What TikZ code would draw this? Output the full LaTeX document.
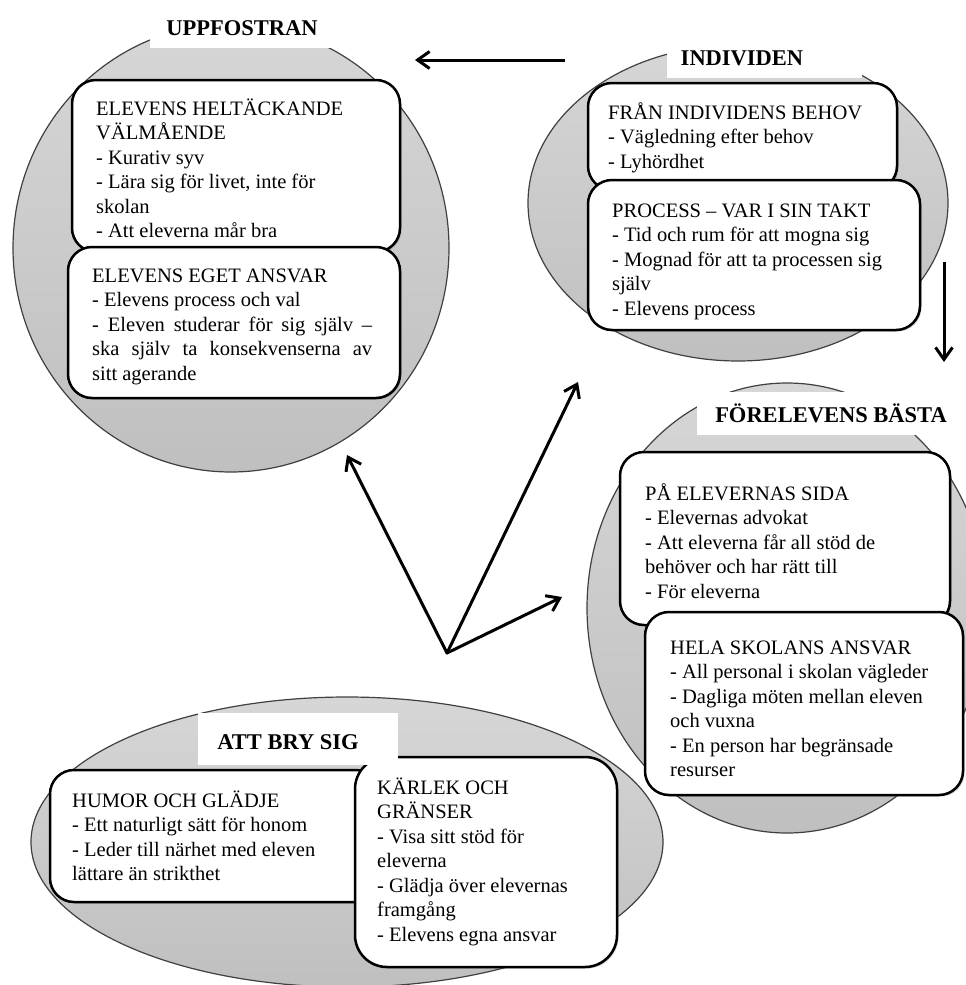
\documentclass[tikz,border=0pt]{standalone}
\usepackage{fontspec}
\setmainfont{Liberation Serif}
\usetikzlibrary{arrows.meta,shadows}

\begin{document}
\begin{tikzpicture}[x=1pt,y=-1pt,
  zone/.style={draw=black!75, line width=1.2pt, top color=gray!32, bottom color=gray!50},
  card/.style={draw=black, line width=2.5pt, fill=white, rounded corners=24pt,
    inner sep=0pt, outer sep=0pt, anchor=north west,
    drop shadow={shadow xshift=1.6pt, shadow yshift=-1.6pt, opacity=0.35}},
  cardtext/.style={inner sep=0pt, anchor=base west, font=\fontsize{20.5pt}{24.5pt}\selectfont},
  heading/.style={inner sep=0pt, text height=15pt, text depth=0pt,
    font=\fontsize{22.5pt}{26pt}\selectfont\bfseries},
  plate/.style={fill=white},
  flow/.style={line width=3pt, -{Straight Barb[length=12pt,width=17pt]}}
]
\useasboundingbox (0,0) rectangle (966,985);
\fill[white] (0,0) rectangle (966,985);
\clip (0,0) rectangle (966,985);

% ---------- background zones ----------
\draw[zone] (231,248) ellipse [x radius=218pt, y radius=224pt];
\draw[zone] (738,203) ellipse [x radius=210pt, y radius=158pt];
\draw[zone] (787,608) ellipse [x radius=200pt, y radius=225pt];
\draw[zone] (347,842) ellipse [x radius=316pt, y radius=145pt];

% ---------- UPPFOSTRAN ----------
\node[card, minimum width=328pt, minimum height=172pt] (u1) at (72,80) {};
\node[cardtext] (u1t) at (96,115) {\parbox[t]{320pt}{\raggedright
  ELEVENS HELTÄCKANDE\\VÄLMÅENDE\\- Kurativ syv\\- Lära sig för livet, inte för\\skolan\\- Att eleverna mår bra}};
\node[card, minimum width=332pt, minimum height=151pt] (u2) at (68,247) {};
\node[cardtext] (u2t) at (92,282) {\parbox[t]{320pt}{\raggedright
  ELEVENS EGET ANSVAR\\- Elevens process och val\\
  \makebox[280pt][s]{- Eleven studerar för sig själv –}\\
  \makebox[280pt][s]{ska själv ta konsekvenserna av}\\sitt agerande}};

% ---------- INDIVIDEN ----------
\node[card, minimum width=309pt, minimum height=107pt] (i1) at (588,83) {};
\node[cardtext] (i1t) at (608,119) {\parbox[t]{320pt}{\raggedright
  FRÅN INDIVIDENS BEHOV\\- Vägledning efter behov\\- Lyhördhet}};
\node[card, minimum width=332pt, minimum height=150pt] (i2) at (588,180) {};
\node[cardtext] (i2t) at (612,217) {\parbox[t]{320pt}{\raggedright
  PROCESS – VAR I SIN TAKT\\- Tid och rum för att mogna sig\\- Mognad för att ta processen sig\\själv\\- Elevens process}};

% ---------- FÖR ELEVENS BÄSTA ----------
\node[card, minimum width=330pt, minimum height=173pt] (f1) at (620,452) {};
\node[cardtext] (f1t) at (645,500) {\parbox[t]{320pt}{\raggedright
  PÅ ELEVERNAS SIDA\\- Elevernas advokat\\- Att eleverna får all stöd de\\behöver och har rätt till\\- För eleverna}};
\node[card, minimum width=318pt, minimum height=183pt] (f2) at (645,612) {};
\node[cardtext] (f2t) at (670,654) {\parbox[t]{320pt}{\raggedright
  HELA SKOLANS ANSVAR\\- All personal i skolan vägleder\\- Dagliga möten mellan eleven\\och vuxna\\- En person har begränsade\\resurser}};

% ---------- ATT BRY SIG ----------
\node[card, minimum width=330pt, minimum height=132pt] (a1) at (50,770) {};
\node[cardtext] (a1t) at (72,807) {\parbox[t]{320pt}{\raggedright
  HUMOR OCH GLÄDJE\\- Ett naturligt sätt för honom\\- Leder till närhet med eleven\\lättare än strikthet}};
\node[card, rounded corners=32pt, minimum width=262pt, minimum height=210pt] (a2) at (355,757) {};
\node[cardtext] (a2t) at (377,794) {\parbox[t]{240pt}{\raggedright
  KÄRLEK OCH\\GRÄNSER\\- Visa sitt stöd för\\eleverna\\- Glädja över elevernas\\framgång\\- Elevens egna ansvar}};

% ---------- headings on white plates ----------
\fill[plate] (150,3) rectangle (337,48);
\node[heading] (h-upp) at (242,28) {UPPFOSTRAN};
\fill[plate] (667,35) rectangle (862,78);
\node[heading] (h-ind) at (742,58) {INDIVIDEN};
\fill[plate] (697,392) rectangle (960,435);
\node[heading] (h-for) at (831,415) {FÖRELEVENS BÄSTA};
\fill[plate] (198,713) rectangle (398,765);
\node[heading] (h-att) at (288,742) {ATT BRY SIG};

% ---------- arrows ----------
\coordinate (top-start) at (565,60);
\coordinate (top-end) at (415,60);
\coordinate (side-start) at (944,262);
\coordinate (side-end) at (944,362);
\coordinate (hub) at (447,653);
\coordinate (to-upp) at (347,455);
\coordinate (to-ind) at (578,382);
\coordinate (to-for) at (562,597);

\draw[flow] (top-start) -- (top-end);
\draw[flow] (side-start) -- (side-end);
\draw[flow, line cap=round] (hub) -- (to-upp);
\draw[flow, line cap=round] (hub) -- (to-ind);
\draw[flow, line cap=round] (hub) -- (to-for);
\end{tikzpicture}
\end{document}
